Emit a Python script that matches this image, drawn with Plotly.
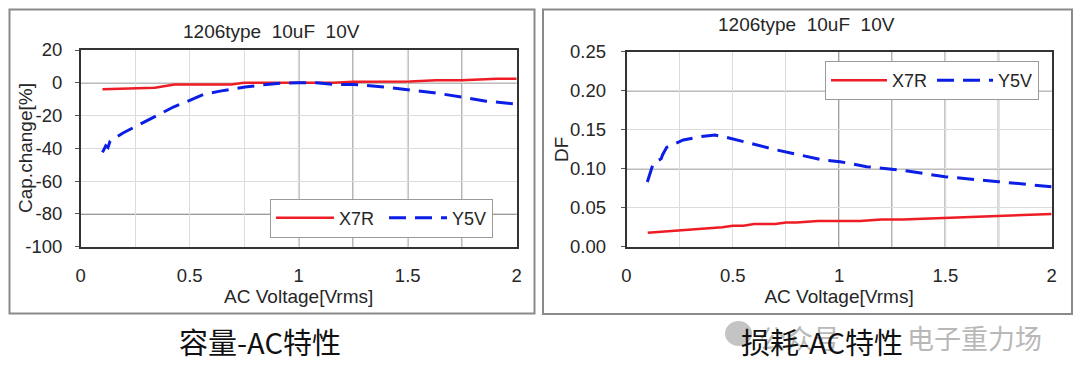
import plotly.graph_objects as go

# ---------------- data ----------------
# Capacitance change vs AC voltage
cap_x7r_v = [0.1, 0.34, 0.43, 0.69, 0.75, 0.9, 1.0, 1.16, 1.25, 1.51, 1.63, 1.75, 1.91, 2.0]
cap_x7r   = [-4.0, -3.0, -1.0, -1.0, 0.0, 0.0, 0.0, 0.0, 0.6, 0.8, 1.6, 1.6, 2.4, 2.4]

cap_y5v_v = [0.1, 0.115, 0.125, 0.135, 0.196, 0.272, 0.349, 0.425, 0.50, 0.563, 0.639,
             0.754, 0.853, 0.93, 1.0, 1.08, 1.16, 1.25, 1.39, 1.50, 1.62, 1.75, 1.86, 2.0]
cap_y5v   = [-42.5, -38.5, -39.5, -35.5, -30.5, -25.4, -20.3, -14.8, -10.8, -7.1, -5.1,
             -2.6, -1.0, -0.2, 0.0, 0.0, -1.0, -1.0, -2.6, -4.1, -6.1, -8.7, -11.2, -13.0]

# Dissipation factor vs AC voltage
df_x7r_v = [0.1, 0.2, 0.3, 0.35, 0.4, 0.45, 0.5, 0.55, 0.6, 0.7, 0.75, 0.8, 0.9, 1.0,
            1.1, 1.15, 1.2, 1.3, 1.4, 1.5, 1.6, 1.7, 1.8, 1.9, 2.0]
df_x7r   = [0.018, 0.020, 0.022, 0.023, 0.024, 0.025, 0.027, 0.027, 0.029, 0.029, 0.031,
            0.031, 0.033, 0.033, 0.033, 0.034, 0.035, 0.035, 0.036, 0.037, 0.038, 0.039,
            0.040, 0.041, 0.042]

df_y5v_v = [0.098, 0.126, 0.163, 0.17, 0.189, 0.267, 0.346, 0.416, 0.471, 0.581, 0.707,
            0.816, 0.926, 1.005, 1.13, 1.287, 1.499, 1.751, 2.0]
df_y5v   = [0.083, 0.107, 0.1127, 0.118, 0.1274, 0.1368, 0.141, 0.1432, 0.1402, 0.1326,
            0.124, 0.1176, 0.111, 0.109, 0.1026, 0.0983, 0.0897, 0.0833, 0.0769]

# tick labels
x_ticks = [0, 0.5, 1, 1.5, 2]
x_ticklabels = ["0", "0.5", "1", "1.5", "2"]
cap_ticks = [20, 0, -20, -40, -60, -80, -100]
cap_ticklabels = ["20", "0", "-20", "-40", "-60", "-80", "-100"]
df_ticks = [0.25, 0.20, 0.15, 0.10, 0.05, 0.00]
df_ticklabels = ["0.25", "0.20", "0.15", "0.10", "0.05", "0.00"]

series_names = ["X7R", "Y5V"]
chart_title = "1206type\u00a0\u00a010uF\u00a0\u00a010V"
x_title = "AC Voltage[Vrms]"
cap_title = "Cap.change[%]"
df_title = "DF"
captions = ["容量-AC特性", "损耗-AC特性"]
watermark = ["公众号", "电子重力场"]

# darker grid lines seen in the reference
cap_dark_x = [1.0, 1.25, 1.5, 1.75]
cap_dark_y = [0, -80]
df_dark_x = [1.0, 1.25, 1.5, 1.75]
df_dark_y = [0.20, 0.10]

# ---------------- style ----------------
W, H = 1080, 381
RED = "#ee1c24"
BLUE = "#0b1ee6"
TXT = "#262626"
FONT = "Liberation Sans, Arial, sans-serif"
LIGHT = "#dcdcdc"
DARK = "#7a7a7a"
TICK_SIZE = 18.5
TITLE_SIZE = 19
PAD = "\u00a0"   # extra spacing after the first entry of the left legend

def px(x):
    return x / W

def py(y):
    return 1 - y / H

fig = go.Figure()

fig.add_trace(go.Scatter(x=cap_x7r_v, y=cap_x7r, name=series_names[0] + PAD, mode="lines",
                         line=dict(color=RED, width=2.5), xaxis="x", yaxis="y", legend="legend"))
fig.add_trace(go.Scatter(x=cap_y5v_v, y=cap_y5v, name=series_names[1], mode="lines",
                         line=dict(color=BLUE, width=3, dash="17px,9px"), xaxis="x", yaxis="y", legend="legend"))
fig.add_trace(go.Scatter(x=df_x7r_v, y=df_x7r, name=series_names[0], mode="lines",
                         line=dict(color=RED, width=2.5), xaxis="x2", yaxis="y2", legend="legend2"))
fig.add_trace(go.Scatter(x=df_y5v_v, y=df_y5v, name=series_names[1], mode="lines",
                         line=dict(color=BLUE, width=3, dash="17px,9px"), xaxis="x2", yaxis="y2", legend="legend2"))

xcommon = dict(range=[0, 2], tickmode="array", tickvals=x_ticks, ticktext=x_ticklabels,
               showgrid=True, gridcolor=LIGHT, gridwidth=1,
               minor=dict(dtick=0.25, tick0=0, showgrid=True, gridcolor=LIGHT, gridwidth=1),
               showline=True, mirror=True, linecolor="#333333", linewidth=1.5,
               zeroline=False, ticks="", ticklabelstandoff=11, automargin=False,
               tickfont=dict(family=FONT, size=TICK_SIZE, color=TXT),
               title=dict(text=x_title, font=dict(family=FONT, size=TITLE_SIZE, color=TXT), standoff=3),
               fixedrange=True)
ycommon = dict(showgrid=True, gridcolor=LIGHT, gridwidth=1, tickmode="array",
               showline=True, mirror=True, linecolor="#333333", linewidth=1.5,
               zeroline=False, ticks="outside", ticklen=4, tickcolor="#555555", automargin=False,
               tickfont=dict(family=FONT, size=TICK_SIZE, color=TXT), fixedrange=True)

LEG = dict(orientation="h", xanchor="left", yanchor="top",
           bgcolor="white", bordercolor="#9a9a9a", borderwidth=1,
           font=dict(family=FONT, size=18, color=TXT), itemwidth=58, tracegroupgap=0)

fig.update_layout(
    width=W, height=H,
    margin=dict(l=0, r=0, t=0, b=0, pad=0, autoexpand=False),
    paper_bgcolor="white", plot_bgcolor="white",
    xaxis=dict(xcommon, domain=[px(80.7), px(516.7)], anchor="y"),
    yaxis=dict(ycommon, domain=[py(246.7), py(50)], anchor="x", range=[-100, 20],
               tickvals=cap_ticks, ticktext=cap_ticklabels, ticklabelstandoff=9),
    xaxis2=dict(xcommon, domain=[px(626.5), px(1051.6)], anchor="y2"),
    yaxis2=dict(ycommon, domain=[py(246.7), py(51.7)], anchor="x2", range=[0, 0.25],
                tickvals=df_ticks, ticktext=df_ticklabels, ticklabelstandoff=11),
    legend=dict(LEG, x=px(270), y=py(198.5)),
    legend2=dict(LEG, x=px(825), y=py(61), itemwidth=56),
    showlegend=True,
)

shapes = []
# outer panel boxes
shapes.append(dict(type="rect", xref="paper", yref="paper", x0=px(9.5), x1=px(534.5),
                   y0=py(313.5), y1=py(9.5), line=dict(color="#8a8a8a", width=2), layer="below"))
shapes.append(dict(type="rect", xref="paper", yref="paper", x0=px(543), x1=px(1072),
                   y0=py(314), y1=py(9.5), line=dict(color="#8a8a8a", width=2), layer="below"))
# darker grid lines
for xv in cap_dark_x:
    shapes.append(dict(type="line", xref="x", yref="y domain", x0=xv, x1=xv, y0=0, y1=1,
                       line=dict(color=DARK, width=1.5), layer="below"))
for yv in cap_dark_y:
    shapes.append(dict(type="line", xref="x domain", yref="y", x0=0, x1=1, y0=yv, y1=yv,
                       line=dict(color=DARK, width=1.5), layer="below"))
for xv in df_dark_x:
    shapes.append(dict(type="line", xref="x2", yref="y2 domain", x0=xv, x1=xv, y0=0, y1=1,
                       line=dict(color=DARK, width=1.5), layer="below"))
for yv in df_dark_y:
    shapes.append(dict(type="line", xref="x2 domain", yref="y2", x0=0, x1=1, y0=yv, y1=yv,
                       line=dict(color=DARK, width=1.5), layer="below"))
# watermark icon
shapes.append(dict(type="circle", xref="paper", yref="paper", x0=px(725), x1=px(752),
                   y0=py(346), y1=py(321), fillcolor="#c4c4c4", line=dict(width=0), layer="below"))
fig.update_layout(shapes=shapes)

CJK = "Noto Sans CJK SC"
annotations = [
    dict(text=chart_title, x=px(271), y=py(31.5), xref="paper", yref="paper", showarrow=False,
         xanchor="center", yanchor="middle", font=dict(family=FONT, size=19, color=TXT)),
    dict(text=chart_title, x=px(806), y=py(25), xref="paper", yref="paper", showarrow=False,
         xanchor="center", yanchor="middle", font=dict(family=FONT, size=19, color=TXT)),
    dict(text=cap_title, x=px(25), y=py(148), xref="paper", yref="paper", showarrow=False,
         textangle=-90, xanchor="center", yanchor="middle",
         font=dict(family=FONT, size=TITLE_SIZE, color=TXT)),
    dict(text=df_title, x=px(561), y=py(150), xref="paper", yref="paper", showarrow=False,
         textangle=-90, xanchor="center", yanchor="middle",
         font=dict(family=FONT, size=TITLE_SIZE, color=TXT)),
    dict(text=watermark[0], x=px(757), y=py(337), xref="paper", yref="paper", showarrow=False,
         xanchor="left", yanchor="middle", font=dict(family=CJK, size=27, color="#b8b8b8")),
    dict(text=watermark[1], x=px(1044), y=py(337), xref="paper", yref="paper", showarrow=False,
         xanchor="right", yanchor="middle", font=dict(family=CJK, size=27, color="#b8b8b8")),
    dict(text=captions[0], x=px(260), y=py(341), xref="paper", yref="paper", showarrow=False,
         xanchor="center", yanchor="middle", font=dict(family=CJK, size=29, color="#111111")),
    dict(text=captions[1], x=px(822), y=py(341), xref="paper", yref="paper", showarrow=False,
         xanchor="center", yanchor="middle", font=dict(family=CJK, size=29, color="#111111")),
]
fig.update_layout(annotations=annotations)

fig.write_html("out.html", config=dict(displayModeBar=False),
               post_script="document.body.style.margin='0';document.body.style.padding='0';")
